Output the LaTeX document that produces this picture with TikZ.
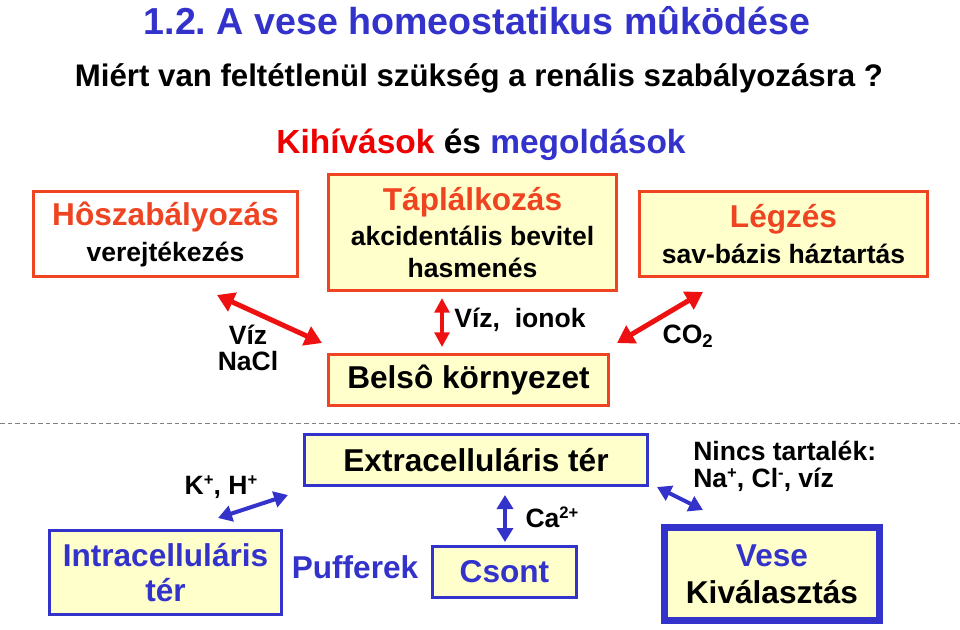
\documentclass[tikz,border=0pt]{standalone}
\usepackage{fontspec}
\setmainfont{Liberation Sans}
\usetikzlibrary{arrows.meta}
\definecolor{tblue}{RGB}{51,51,204}
\definecolor{bred}{RGB}{238,68,34}
\definecolor{ared}{RGB}{238,17,17}
\definecolor{kred}{RGB}{238,0,0}
\definecolor{byellow}{RGB}{255,255,204}
\newcommand{\bigf}{\fontsize{23.7}{27}\selectfont}
\newcommand{\upsc}[1]{\raisebox{0.62ex}{\fontsize{12.5}{12.5}\selectfont #1}}
\tikzset{
  boxbase/.style={align=center, inner sep=0pt, text=black},
  redbox/.style={boxbase, draw=bred, line width=2.5pt, fill=byellow},
  whitebox/.style={boxbase, draw=bred, line width=2.5pt, fill=white},
  bluebox/.style={boxbase, draw=tblue, line width=2.25pt, fill=byellow},
  thickbluebox/.style={boxbase, draw=tblue, line width=4.9pt, fill=byellow},
  midtxt/.style={font=\fontsize{19.9}{19}\selectfont\bfseries, inner sep=0pt},
  redarrow/.style={draw=ared, line width=3.75pt,
    {Triangle[length=12.75pt,width=15pt]}-{Triangle[length=12.75pt,width=15pt]}},
  redvarrow/.style={draw=ared, line width=3pt,
    {Triangle[length=11pt,width=11pt]}-{Triangle[length=11pt,width=11pt]}},
  bluearrow/.style={draw=tblue, line width=3pt,
    {Triangle[length=10.5pt,width=12pt]}-{Triangle[length=10.5pt,width=12pt]}},
  sep/.style={draw=gray, line width=0.6pt, dash pattern=on 3.5pt off 2.2pt}
}
\begin{document}
\frenchspacing
\begin{tikzpicture}[x=0.75pt,y=-0.75pt, font=\bfseries]
\useasboundingbox (0,0) rectangle (960,629);

% titles
\node[inner sep=0pt, text=tblue, font=\fontsize{28.2}{34}\selectfont\bfseries] (title) at (477,21) {1.2. A vese homeostatikus mûködése};
\node[inner sep=0pt, font=\fontsize{23.4}{28}\selectfont\bfseries] (sub) at (479,78) {Miért van feltétlenül szükség a renális szabályozásra ?};
\node[inner sep=0pt, font=\fontsize{25.1}{30}\selectfont\bfseries] (kihiv) at (481,145) {\textcolor{kred}{Kihívások} és \textcolor{tblue}{megoldások}};

% top boxes
\node[whitebox, minimum width=263.7*0.75pt, minimum height=84.7*0.75pt,
      font=\fontsize{19.9}{27}\selectfont\bfseries] (hosz) at (165.5,234)
  {{\bigf\color{bred}Hôszabályozás}\\verejtékezés};
\node[redbox, minimum width=287.7*0.75pt, minimum height=115.7*0.75pt,
      font=\fontsize{19.9}{23.5}\selectfont\bfseries] (tapl) at (472.5,232.5)
  {{\bigf\color{bred}Táplálkozás}\\[3pt]akcidentális bevitel\\hasmenés};
\node[redbox, minimum width=287.7*0.75pt, minimum height=84.7*0.75pt,
      font=\fontsize{19.9}{27}\selectfont\bfseries] (legz) at (783.5,234)
  {{\bigf\color{bred}Légzés}\\sav-bázis háztartás};
\node[redbox, minimum width=279.7*0.75pt, minimum height=50.7*0.75pt,
      font=\fontsize{23.7}{27}\selectfont\bfseries] (belso) at (468.5,380)
  {Belsô környezet};

% red arrows
\coordinate (r1a) at (217,295); \coordinate (r1b) at (322,343);
\coordinate (r2a) at (442,298); \coordinate (r2b) at (442,347);
\coordinate (r3a) at (703,292); \coordinate (r3b) at (617,343);
\draw[redarrow] (r1a) -- (r1b);
\draw[redvarrow] (r2a) -- (r2b);
\draw[redarrow] (r3a) -- (r3b);
\node[midtxt, align=center] (viznacl) at (248,348) {Víz\\NaCl};
\node[midtxt] (vizion) at (520,320) {Víz,\ \ ionok};
\node[midtxt] (co2) at (688,336) {CO\textsubscript{2}};

% separator
\coordinate (sepl) at (0,423); \coordinate (sepr) at (960,423);
\draw[sep] (sepl) -- (sepr);

% bottom boxes
\node[bluebox, minimum width=343*0.75pt, minimum height=51*0.75pt,
      font=\fontsize{23.7}{27}\selectfont\bfseries] (extra) at (476,460)
  {Extracelluláris tér};
\node[bluebox, minimum width=232*0.75pt, minimum height=84*0.75pt, text=tblue,
      font=\fontsize{23.7}{26.5}\selectfont\bfseries] (intra) at (165.5,572.5)
  {Intracelluláris\\tér};
\node[bluebox, minimum width=144*0.75pt, minimum height=51*0.75pt, text=tblue,
      font=\fontsize{23.7}{27}\selectfont\bfseries] (csont) at (504.5,572)
  {Csont};
\node[thickbluebox, minimum width=215.5*0.75pt, minimum height=93.5*0.75pt,
      font=\fontsize{23.7}{27.5}\selectfont\bfseries] (vese) at (772,574)
  {\textcolor{tblue}{Vese}\\Kiválasztás};
\node[inner sep=0pt, text=tblue, font=\fontsize{23.7}{27}\selectfont\bfseries] (puff) at (355,567) {Pufferek};

% blue arrows
\coordinate (b1a) at (218,518); \coordinate (b1b) at (288,495);
\coordinate (b2a) at (505,495); \coordinate (b2b) at (505,542);
\coordinate (b3a) at (657,487); \coordinate (b3b) at (703,510);
\draw[bluearrow] (b1a) -- (b1b);
\draw[bluearrow] (b2a) -- (b2b);
\draw[bluearrow] (b3a) -- (b3b);
\node[midtxt] (kh) at (221,487) {K\upsc{+}, H\upsc{+}};
\node[midtxt] (ca) at (552,517) {Ca\upsc{2+}};
\node[midtxt, align=left, anchor=west, font=\fontsize{19.9}{20}\selectfont\bfseries] (nincs) at (693,466)
  {Nincs tartalék:\\Na\upsc{+}, Cl\upsc{-}, víz};
\end{tikzpicture}
\end{document}
